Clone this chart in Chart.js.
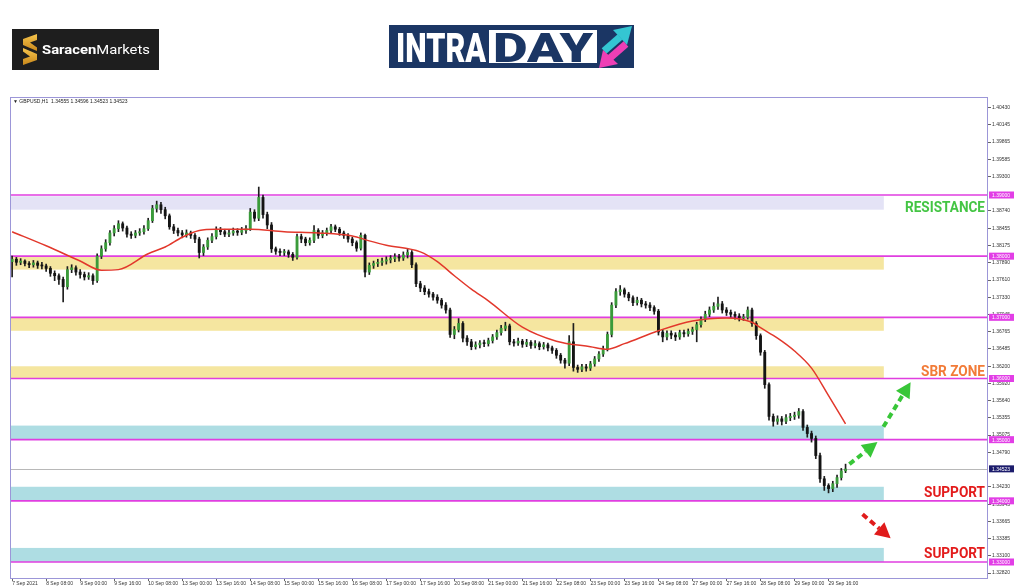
<!DOCTYPE html>
<html>
<head>
<meta charset="utf-8">
<title>GBPUSD H1 intraday</title>
<script src="https://cdn.jsdelivr.net/npm/chart.js@4.4.0/dist/chart.umd.min.js"></script>
<style>
  html, body { margin: 0; padding: 0; background: #fff; }
  #wrap { position: relative; width: 1024px; height: 587px; overflow: hidden; }
  #chart { position: absolute; left: 0; top: 0; }
  #logos { position: absolute; left: 0; top: 0; }
</style>
</head>
<body>
<div id="wrap">
  <canvas id="chart" width="1024" height="587"></canvas>
  <svg id="logos" width="1024" height="90" xmlns="http://www.w3.org/2000/svg">
    <defs>
      <linearGradient id="gold" x1="0" y1="0" x2="0" y2="1">
        <stop offset="0" stop-color="#f6c54c"/>
        <stop offset="1" stop-color="#c8871b"/>
      </linearGradient>
    </defs>
    <!-- Saracen Markets -->
    <rect x="12" y="29" width="147" height="41" fill="#1e1e1e"/>
    <path d="M23 39 L37 34 L37 40 L30 42.5 L37 47.5 L37 51 L23 45 Z" fill="url(#gold)"/>
    <path d="M37 60 L23 65 L23 59 L30 56.5 L23 51.5 L23 48 L37 54 Z" fill="url(#gold)"/>
    <text x="42" y="53.5" font-family="Roboto, sans-serif" font-size="12.5" fill="#ffffff"
          textLength="108" lengthAdjust="spacingAndGlyphs"><tspan font-weight="bold">Saracen</tspan><tspan>Markets</tspan></text>
    <!-- INTRADAY -->
    <rect x="389" y="25" width="245" height="43" fill="#1b3664"/>
    <text x="396" y="62" font-family="Roboto, sans-serif" font-weight="900" font-size="40" fill="#ffffff"
          textLength="90" lengthAdjust="spacingAndGlyphs">INTRA</text>
    <rect x="489" y="30" width="108" height="33" fill="#ffffff"/>
    <text x="493" y="62" font-family="Roboto, sans-serif" font-weight="900" font-size="40" fill="#1b3664"
          textLength="100" lengthAdjust="spacingAndGlyphs">DAY</text>
    <line x1="604" y1="51" x2="620" y2="37" stroke="#34c6d2" stroke-width="7"/>
    <polygon points="632,26 613,30 627,45" fill="#34c6d2"/>
    <line x1="626" y1="44" x2="610" y2="58" stroke="#ee3fb5" stroke-width="7"/>
    <polygon points="599,68 603,50 618,64" fill="#ee3fb5"/>
  </svg>
</div>
<script>
// --- DADOS (velas de 2 horas) ---
const tickLabels = ['7 Sep 2021', '8 Sep 08:00', '9 Sep 00:00', '9 Sep 16:00', '10 Sep 08:00',
  '13 Sep 00:00', '13 Sep 16:00', '14 Sep 08:00', '15 Sep 00:00', '15 Sep 16:00', '16 Sep 08:00',
  '17 Sep 00:00', '17 Sep 16:00', '20 Sep 08:00', '21 Sep 00:00', '21 Sep 16:00', '22 Sep 08:00',
  '23 Sep 00:00', '23 Sep 16:00', '24 Sep 08:00', '27 Sep 00:00', '27 Sep 16:00', '28 Sep 08:00',
  '29 Sep 00:00', '29 Sep 16:00'];

const opens = [
  1.3791,1.3795,1.3790,1.3792,1.3788,1.3786,1.3789,1.3785,1.3784,1.3780,
  1.3772,1.3768,1.3762,1.3750,1.3778,1.3781,1.3774,1.3770,1.3766,1.3768,
  1.3760,1.3800,1.3812,1.3822,1.3838,1.3845,1.3853,1.3846,1.3836,1.3834,
  1.3838,1.3840,1.3845,1.3858,1.3878,1.3884,1.3876,1.3866,1.3848,1.3842,
  1.3838,1.3835,1.3838,1.3834,1.3828,1.3806,1.3815,1.3826,1.3832,1.3843,
  1.3840,1.3836,1.3838,1.3841,1.3839,1.3842,1.3845,1.3872,1.3862,1.3896,
  1.3868,1.3851,1.3812,1.3808,1.3806,1.3807,1.3803,1.3798,1.3832,1.3828,
  1.3822,1.3826,1.3842,1.3834,1.3838,1.3842,1.3848,1.3844,1.3838,1.3834,
  1.3828,1.3822,1.3813,1.3834,1.3774,1.3785,1.3788,1.3790,1.3792,1.3794,
  1.3796,1.3799,1.3797,1.3802,1.3806,1.3786,1.3755,1.3748,1.3742,1.3738,
  1.3733,1.3728,1.3720,1.3712,1.3672,1.3680,1.3690,1.3666,1.3660,1.3652,
  1.3655,1.3658,1.3657,1.3662,1.3668,1.3675,1.3682,1.3686,1.3660,1.3658,
  1.3661,1.3656,1.3659,1.3654,1.3657,1.3652,1.3655,1.3650,1.3646,1.3638,
  1.3630,1.3625,1.3660,1.3618,1.3615,1.3619,1.3617,1.3624,1.3632,1.3640,
  1.3648,1.3672,1.3720,1.3742,1.3745,1.3738,1.3732,1.3724,1.3728,1.3722,
  1.3720,1.3716,1.3710,1.3676,1.3668,1.3674,1.3671,1.3668,1.3675,1.3673,
  1.3677,1.3680,1.3688,1.3697,1.3705,1.3712,1.3718,1.3722,1.3712,1.3708,
  1.3705,1.3702,1.3699,1.3700,1.3712,1.3690,1.3670,1.3643,1.3590,1.3538,
  1.3530,1.3534,1.3530,1.3536,1.3538,1.3540,1.3546,1.3520,1.3510,1.3502,
  1.3474,1.3436,1.3425,1.3420,1.3428,1.3438,1.3449];

const highs = [
  1.3800,1.3798,1.3796,1.3794,1.3791,1.3793,1.3792,1.3790,1.3787,1.3783,
  1.3776,1.3771,1.3766,1.3783,1.3786,1.3784,1.3778,1.3774,1.3773,1.3771,
  1.3804,1.3817,1.3827,1.3842,1.3850,1.3858,1.3856,1.3849,1.3840,1.3842,
  1.3845,1.3850,1.3862,1.3883,1.3890,1.3888,1.3880,1.3869,1.3852,1.3846,
  1.3842,1.3843,1.3841,1.3837,1.3831,1.3819,1.3830,1.3837,1.3848,1.3847,
  1.3844,1.3843,1.3846,1.3845,1.3847,1.3850,1.3878,1.3876,1.3913,1.3900,
  1.3872,1.3855,1.3815,1.3812,1.3811,1.3810,1.3806,1.3836,1.3836,1.3831,
  1.3830,1.3850,1.3845,1.3842,1.3846,1.3852,1.3851,1.3847,1.3841,1.3837,
  1.3831,1.3825,1.3838,1.3836,1.3789,1.3792,1.3795,1.3797,1.3799,1.3801,
  1.3804,1.3803,1.3807,1.3811,1.3809,1.3789,1.3759,1.3752,1.3746,1.3741,
  1.3737,1.3731,1.3724,1.3715,1.3685,1.3698,1.3693,1.3670,1.3664,1.3660,
  1.3662,1.3663,1.3666,1.3672,1.3679,1.3687,1.3692,1.3689,1.3664,1.3666,
  1.3664,1.3664,1.3662,1.3662,1.3660,1.3659,1.3658,1.3653,1.3649,1.3641,
  1.3633,1.3670,1.3690,1.3622,1.3623,1.3623,1.3628,1.3636,1.3644,1.3653,
  1.3676,1.3724,1.3747,1.3752,1.3748,1.3741,1.3735,1.3733,1.3731,1.3726,
  1.3724,1.3719,1.3713,1.3680,1.3678,1.3678,1.3675,1.3679,1.3679,1.3681,
  1.3684,1.3692,1.3701,1.3710,1.3717,1.3724,1.3733,1.3726,1.3716,1.3712,
  1.3709,1.3706,1.3705,1.3717,1.3715,1.3693,1.3673,1.3646,1.3593,1.3542,
  1.3539,1.3538,1.3541,1.3543,1.3545,1.3551,1.3549,1.3524,1.3514,1.3506,
  1.3478,1.3440,1.3428,1.3432,1.3442,1.3453,1.3460];

const lows = [
  1.3766,1.3785,1.3786,1.3784,1.3781,1.3782,1.3780,1.3779,1.3775,1.3767,
  1.3760,1.3754,1.3725,1.3746,1.3773,1.3769,1.3764,1.3761,1.3762,1.3754,
  1.3757,1.3796,1.3808,1.3818,1.3833,1.3840,1.3841,1.3831,1.3829,1.3830,
  1.3834,1.3836,1.3842,1.3855,1.3872,1.3870,1.3861,1.3844,1.3837,1.3833,
  1.3830,1.3831,1.3829,1.3822,1.3797,1.3801,1.3811,1.3822,1.3828,1.3835,
  1.3832,1.3832,1.3834,1.3834,1.3835,1.3837,1.3842,1.3857,1.3858,1.3862,
  1.3845,1.3806,1.3803,1.3801,1.3801,1.3798,1.3793,1.3795,1.3822,1.3817,
  1.3818,1.3822,1.3829,1.3830,1.3834,1.3838,1.3840,1.3834,1.3829,1.3823,
  1.3817,1.3808,1.3810,1.3766,1.3770,1.3780,1.3783,1.3785,1.3787,1.3789,
  1.3791,1.3792,1.3793,1.3797,1.3781,1.3750,1.3742,1.3737,1.3733,1.3728,
  1.3723,1.3715,1.3707,1.3667,1.3665,1.3676,1.3660,1.3654,1.3647,1.3648,
  1.3650,1.3652,1.3653,1.3658,1.3664,1.3671,1.3678,1.3655,1.3653,1.3654,
  1.3651,1.3652,1.3649,1.3650,1.3647,1.3648,1.3645,1.3641,1.3633,1.3625,
  1.3617,1.3621,1.3612,1.3610,1.3611,1.3612,1.3613,1.3620,1.3628,1.3636,
  1.3645,1.3668,1.3716,1.3736,1.3733,1.3727,1.3719,1.3720,1.3717,1.3715,
  1.3711,1.3705,1.3671,1.3660,1.3663,1.3665,1.3662,1.3664,1.3668,1.3669,
  1.3672,1.3660,1.3684,1.3693,1.3701,1.3708,1.3713,1.3707,1.3703,1.3700,
  1.3697,1.3694,1.3695,1.3697,1.3685,1.3664,1.3638,1.3584,1.3532,1.3522,
  1.3525,1.3524,1.3526,1.3531,1.3533,1.3535,1.3515,1.3504,1.3496,1.3469,
  1.3430,1.3417,1.3413,1.3415,1.3422,1.3434,1.3446];

const closes = [
  1.3795,1.3790,1.3792,1.3788,1.3786,1.3789,1.3785,1.3784,1.3780,1.3772,
  1.3768,1.3762,1.3750,1.3778,1.3781,1.3774,1.3770,1.3766,1.3768,1.3760,
  1.3800,1.3812,1.3822,1.3838,1.3845,1.3853,1.3846,1.3836,1.3834,1.3838,
  1.3840,1.3845,1.3858,1.3878,1.3884,1.3876,1.3866,1.3848,1.3842,1.3838,
  1.3835,1.3838,1.3834,1.3828,1.3806,1.3815,1.3826,1.3832,1.3843,1.3840,
  1.3836,1.3838,1.3841,1.3839,1.3842,1.3845,1.3872,1.3862,1.3896,1.3868,
  1.3851,1.3812,1.3808,1.3806,1.3807,1.3803,1.3798,1.3832,1.3828,1.3822,
  1.3826,1.3842,1.3834,1.3838,1.3842,1.3848,1.3844,1.3838,1.3834,1.3828,
  1.3822,1.3813,1.3834,1.3774,1.3785,1.3788,1.3790,1.3792,1.3794,1.3796,
  1.3799,1.3797,1.3802,1.3806,1.3786,1.3755,1.3748,1.3742,1.3738,1.3733,
  1.3728,1.3720,1.3712,1.3672,1.3680,1.3690,1.3666,1.3660,1.3652,1.3655,
  1.3658,1.3657,1.3662,1.3668,1.3675,1.3682,1.3686,1.3660,1.3658,1.3661,
  1.3656,1.3659,1.3654,1.3657,1.3652,1.3655,1.3650,1.3646,1.3638,1.3630,
  1.3625,1.3660,1.3618,1.3615,1.3619,1.3617,1.3624,1.3632,1.3640,1.3648,
  1.3672,1.3720,1.3742,1.3745,1.3738,1.3732,1.3724,1.3728,1.3722,1.3720,
  1.3716,1.3710,1.3676,1.3668,1.3674,1.3671,1.3668,1.3675,1.3673,1.3677,
  1.3680,1.3688,1.3697,1.3705,1.3712,1.3718,1.3722,1.3712,1.3708,1.3705,
  1.3702,1.3699,1.3700,1.3712,1.3690,1.3670,1.3643,1.3590,1.3538,1.3530,
  1.3534,1.3530,1.3536,1.3538,1.3540,1.3546,1.3520,1.3510,1.3502,1.3474,
  1.3436,1.3425,1.3420,1.3428,1.3438,1.3449,1.3452];

// média móvel (vermelha), lida em alguns pontos
const maIndex = [0, 8, 16, 21, 25, 32, 36, 40, 44, 48, 56, 64, 72, 80, 84, 88, 96, 100, 104, 108,
  112, 120, 128, 136, 140, 144, 152, 160, 168, 174, 176, 180, 184, 188, 192, 196];
const maValues = [1.3840, 1.3817, 1.3792, 1.3777, 1.3778, 1.3804, 1.3815, 1.3831, 1.3842, 1.3844,
  1.3844, 1.3840, 1.3838, 1.3833, 1.3825, 1.3818, 1.3807, 1.3791, 1.3768, 1.3746,
  1.3727, 1.3684, 1.3661, 1.3652, 1.3648, 1.3657, 1.3678, 1.3694, 1.3699, 1.3692,
  1.3683, 1.3666, 1.3645, 1.3617, 1.3572, 1.3526];

const yTickValues = [1.40430, 1.40145, 1.39865, 1.39585, 1.39300, 1.38740, 1.38455, 1.38175,
  1.37890, 1.37610, 1.37330, 1.37045, 1.36765, 1.36485, 1.36200, 1.35920, 1.35640, 1.35355,
  1.35075, 1.34790, 1.34230, 1.33945, 1.33665, 1.33385, 1.33100, 1.32820];

const levelLines = [1.39, 1.38, 1.37, 1.36, 1.35, 1.34, 1.33];
const zoneLows = [1.3876, 1.3778, 1.3678, 1.3600, 1.3500, 1.3400, 1.3300];
const zoneHighs = [1.3898, 1.3800, 1.3700, 1.3620, 1.3523, 1.3423, 1.3323];
const zoneColors = ['#e4e3f6', '#f5e6a0', '#f5e6a0', '#f5e6a0', '#aedde3', '#aedde3', '#aedde3'];
const lastPrice = 1.34523;

const noteTexts = ['RESISTANCE', 'SBR ZONE', 'SUPPORT', 'SUPPORT'];
const notePrices = [1.3880, 1.3612, 1.3414, 1.3315];
const noteColors = ['#44c544', '#f27b38', '#e31b1b', '#e31b1b'];
const noteWidths = [80, 64, 61, 61];

// setas: [índice, preço] da cauda e da ponta
const arrows = [
  { from: [196.9, 1.3460], to: [203.5, 1.3496], color: '#38c638' },
  { from: [204.9, 1.3521], to: [211.3, 1.3594], color: '#38c638' },
  { from: [200.0, 1.3378], to: [206.6, 1.3339], color: '#e01b1b' },
];

const SLOTS = 230;          // espaço vazio à direita, como no MT4
const zoneEndIndex = 205;

// --- MONTAGEM DOS DADOS PARA O CHART.JS ---
const labels = Array.from({ length: SLOTS }, (_, i) =>
  i < closes.length && i % 8 === 0 ? tickLabels[i / 8] : '');
const wicks = lows.map((l, i) => [l, highs[i]]);
const bodies = opens.map((o, i) => [o, closes[i]]);
const bodyColors = opens.map((o, i) => (closes[i] >= o ? '#3a9b3a' : '#141414'));
const maData = labels.map(() => null);
maIndex.forEach((k, i) => { maData[k] = maValues[i]; });

Chart.defaults.font.family = "'Liberation Sans', Arial, sans-serif";

function drawArrow(ctx, x1, y1, x2, y2, color) {
  const ang = Math.atan2(y2 - y1, x2 - x1);
  const head = 15;
  const bx = x2 - head * Math.cos(ang);
  const by = y2 - head * Math.sin(ang);
  ctx.save();
  ctx.strokeStyle = color;
  ctx.fillStyle = color;
  ctx.lineWidth = 4;
  ctx.setLineDash([6, 4]);
  ctx.beginPath();
  ctx.moveTo(x1, y1);
  ctx.lineTo(bx, by);
  ctx.stroke();
  ctx.setLineDash([]);
  const nx = -Math.sin(ang) * 8;
  const ny = Math.cos(ang) * 8;
  ctx.beginPath();
  ctx.moveTo(x2, y2);
  ctx.lineTo(bx + nx, by + ny);
  ctx.lineTo(bx - nx, by - ny);
  ctx.closePath();
  ctx.fill();
  ctx.restore();
}

const overlay = {
  id: 'overlay',
  beforeDatasetsDraw(chart) {
    const { ctx, chartArea: a, scales: { x, y } } = chart;
    const xEnd = x.getPixelForValue(zoneEndIndex);
    ctx.save();
    zoneLows.forEach((lo, i) => {
      const top = y.getPixelForValue(zoneHighs[i]);
      const bot = y.getPixelForValue(lo);
      ctx.fillStyle = zoneColors[i];
      ctx.fillRect(a.left, top, xEnd - a.left, bot - top);
    });
    // linha do preço atual
    const py = Math.round(y.getPixelForValue(lastPrice)) + 0.5;
    ctx.strokeStyle = '#b8b8b8';
    ctx.lineWidth = 1;
    ctx.beginPath();
    ctx.moveTo(a.left, py);
    ctx.lineTo(a.right, py);
    ctx.stroke();
    // níveis redondos
    ctx.strokeStyle = '#e03ee0';
    ctx.lineWidth = 1.6;
    levelLines.forEach((v) => {
      const yy = y.getPixelForValue(v);
      ctx.beginPath();
      ctx.moveTo(a.left, yy);
      ctx.lineTo(a.right, yy);
      ctx.stroke();
    });
    ctx.restore();
  },
  afterDraw(chart) {
    const { ctx, chartArea: a, scales: { x, y } } = chart;
    ctx.save();
    // moldura
    ctx.strokeStyle = '#9c96d8';
    ctx.lineWidth = 1;
    ctx.strokeRect(a.left + 0.5, a.top + 0.5, a.right - a.left - 1, a.bottom - a.top);

    // cabeçalho
    ctx.fillStyle = '#222';
    ctx.font = "5px 'Liberation Sans', 'DejaVu Sans', sans-serif";
    ctx.textBaseline = 'middle';
    ctx.textAlign = 'left';
    ctx.fillText('▼ GBPUSD,H1  1.34555 1.34596 1.34523 1.34523', a.left + 3, a.top + 5);

    // etiquetas no eixo
    levelLines.forEach((v) => {
      const yy = y.getPixelForValue(v);
      ctx.fillStyle = '#e23ee6';
      ctx.fillRect(a.right + 1, yy - 3.5, 25, 7);
      ctx.fillStyle = '#fff';
      ctx.fillText(v.toFixed(5), a.right + 4, yy + 0.5);
    });
    const py = y.getPixelForValue(lastPrice);
    ctx.fillStyle = '#1c1c6c';
    ctx.fillRect(a.right + 1, py - 3.5, 25, 7);
    ctx.fillStyle = '#fff';
    ctx.fillText(lastPrice.toFixed(5), a.right + 4, py + 0.5);

    // textos das zonas
    noteTexts.forEach((t, i) => {
      ctx.font = "bold 15px Roboto, 'DejaVu Sans', sans-serif";
      const w = ctx.measureText(t).width;
      const yy = y.getPixelForValue(notePrices[i]);
      ctx.save();
      ctx.translate(a.right - 3 - noteWidths[i], yy);
      ctx.scale(noteWidths[i] / w, 1);
      ctx.fillStyle = noteColors[i];
      ctx.textBaseline = 'middle';
      ctx.fillText(t, 0, 1);
      ctx.restore();
    });

    // setas
    arrows.forEach((ar) => {
      drawArrow(ctx,
        x.getPixelForValue(ar.from[0]), y.getPixelForValue(ar.from[1]),
        x.getPixelForValue(ar.to[0]), y.getPixelForValue(ar.to[1]), ar.color);
    });
    ctx.restore();
  },
};

new Chart(document.getElementById('chart'), {
  type: 'bar',
  data: {
    labels: labels,
    datasets: [
      {
        type: 'line',
        label: 'MA',
        data: maData,
        borderColor: '#e2382c',
        borderWidth: 1.5,
        pointRadius: 0,
        spanGaps: true,
        cubicInterpolationMode: 'monotone',
        order: 0,
      },
      {
        label: 'Corpo',
        data: bodies,
        backgroundColor: bodyColors,
        barThickness: 2.2,
        minBarLength: 1,
        grouped: false,
        order: 1,
      },
      {
        label: 'Pavio',
        data: wicks,
        backgroundColor: '#1e1e1e',
        barThickness: 1,
        grouped: false,
        order: 2,
      },
    ],
  },
  options: {
    responsive: false,
    animation: false,
    layout: { padding: { left: 10, top: 97, right: 0, bottom: 0 } },
    plugins: { legend: { display: false }, tooltip: { enabled: false } },
    scales: {
      x: {
        type: 'category',
        offset: true,
        border: { display: false },
        grid: { display: true, offset: false, drawOnChartArea: false, drawTicks: true, tickLength: 3, color: '#666' },
        ticks: {
          autoSkip: false,
          maxRotation: 0,
          minRotation: 0,
          align: 'start',
          padding: 0,
          color: '#333',
          font: { size: 5 },
          callback: (v, i) => (labels[i] ? labels[i] : null),
        },
        afterFit: (s) => { s.height = 9; },
      },
      y: {
        type: 'linear',
        position: 'right',
        min: 1.327384,
        max: 1.406022,
        border: { display: false },
        grid: { drawOnChartArea: false, drawTicks: true, tickLength: 3, color: '#666' },
        afterBuildTicks: (s) => { s.ticks = yTickValues.map((v) => ({ value: v })); },
        ticks: {
          padding: 1,
          color: '#333',
          font: { size: 5 },
          callback: (v) => Number(v).toFixed(5),
        },
        afterFit: (s) => { s.width = 36; },
      },
    },
  },
  plugins: [overlay],
});
</script>
</body>
</html>
